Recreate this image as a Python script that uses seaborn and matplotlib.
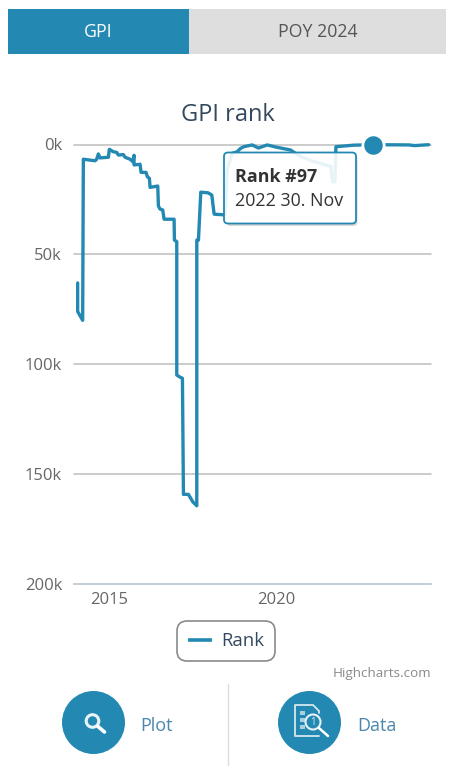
import matplotlib
matplotlib.use("Agg")
import matplotlib.pyplot as plt
from matplotlib.patches import Circle, FancyBboxPatch, Rectangle
import pandas as pd
import seaborn as sns

# GPI world rank over time, as decimal year / rank position
years = [2014.06, 2014.06, 2014.21, 2014.23, 2014.58, 2014.63, 2014.68, 2014.73, 2014.98, 2015.01,
         2015.13, 2015.23, 2015.28, 2015.43, 2015.48, 2015.63, 2015.71, 2015.75, 2015.75, 2015.93,
         2015.96, 2016.11, 2016.15, 2016.21, 2016.23, 2016.46, 2016.48, 2016.53, 2016.61, 2016.65,
         2016.95, 2016.96, 2017.03, 2017.03, 2017.11, 2017.20, 2017.23, 2017.38, 2017.51, 2017.63,
         2017.63, 2017.68, 2017.75, 2017.97, 2018.08, 2018.15, 2018.43, 2018.48, 2018.54, 2018.69,
         2018.84, 2018.94, 2019.04, 2019.29, 2019.48, 2019.74, 2020.04, 2020.44, 2020.74, 2021.14,
         2021.65, 2021.70, 2021.77, 2021.80, 2022.34, 2022.915, 2023.60, 2024.00, 2024.15, 2024.58]
ranks = [63000, 76000, 80000, 6700, 7400, 6700, 4300, 6100, 5800, 2200,
         3300, 3600, 4800, 4600, 5800, 6700, 7800, 4900, 9300, 9000,
         12700, 12700, 14700, 15400, 19500, 18900, 28000, 29400, 29800, 34000,
         34000, 43500, 44200, 104900, 105700, 106400, 159200, 159200, 162600, 164400,
         43500, 43500, 21700, 22000, 23000, 31700, 32000, 32000, 11500, 4000,
         3300, 1800, 1000, 200, 1600, 200, 1300, 2500, 5500, 7800,
         10000, 17000, 17000, 1000, 300, 97, 150, 200, 500, 100]

selected_year = 2022.915
selected_rank = 97

y_ticks = [0, 50000, 100000, 150000, 200000]
y_labels = ["0k", "50k", "100k", "150k", "200k"]
x_ticks = [2015, 2020]
x_labels = ["2015", "2020"]

TEAL = "#2389b2"
INK = "#34495e"
AXIS_TEXT = "#666666"
W, H = 451, 769

sns.set_theme(style="white")
plt.rcParams["font.family"] = ["Open Sans", "DejaVu Sans"]

fig = plt.figure(figsize=(W / 100, H / 100), dpi=100, facecolor="white")

# Page furniture lives on a full-figure layer measured in pixels
ui = fig.add_axes([0, 0, 1, 1], zorder=0)
ui.set_xlim(0, W)
ui.set_ylim(H, 0)
ui.axis("off")

ax = fig.add_axes([74 / W, 1 - 584 / H, (431 - 74) / W, (584 - 144.5) / H], zorder=1)
ax.patch.set_alpha(0)

frame = pd.DataFrame({"year": years, "rank": ranks})
sns.lineplot(data=frame, x="year", y="rank", estimator=None, sort=False, color=TEAL,
             linewidth=2.4, ax=ax, label="Rank", clip_on=False, zorder=3,
             solid_joinstyle="round")
ax.scatter([selected_year], [selected_rank], s=235, color=TEAL, edgecolor="white",
           linewidth=2, zorder=4, clip_on=False)

ax.set_xlim(2013.95, 2024.65)
ax.set_ylim(200000, 0)
ax.set_xticks(x_ticks, x_labels)
ax.set_yticks(y_ticks, y_labels)
ax.set_xlabel("")
ax.set_ylabel("")
ax.tick_params(axis="both", length=0, labelsize=12, labelcolor=AXIS_TEXT)
ax.tick_params(axis="y", pad=8.6)
ax.tick_params(axis="x", pad=6)
ax.grid(axis="y", color="#bdbdbd", linewidth=1.1, clip_on=False)
ax.grid(axis="x", visible=False)
ax.set_axisbelow(True)
for name in ("top", "left", "right"):
    ax.spines[name].set_visible(False)
ax.spines["bottom"].set_color("#c3cfdc")
ax.spines["bottom"].set_linewidth(1.1)

leg = ax.legend(loc="center", bbox_to_anchor=(226 / W, 1 - 641 / H),
                bbox_transform=fig.transFigure, fontsize=13.3, frameon=True, fancybox=True,
                edgecolor="#8a8a8a", facecolor="white", framealpha=1, handlelength=1.3,
                handletextpad=0.5, borderpad=0.6, labelcolor=INK)
leg.get_frame().set_linewidth(1.2)
leg.get_frame().set_boxstyle("round", pad=0, rounding_size=0.55)
leg.get_lines()[0].set_linewidth(2.6)
leg.get_lines()[0].set_solid_capstyle("butt")

# Tabs
ui.add_patch(Rectangle((8, 9), 181, 45, color=TEAL, lw=0))
ui.add_patch(Rectangle((189, 9), 257, 45, color="#dedede", lw=0))
ui.text(98.5, 32, "GPI", color="white", fontsize=12.8, ha="center", va="center")
ui.text(318, 32, "POY 2024", color="#555555", fontsize=12.8, ha="center", va="center")

ui.text(227.5, 115, "GPI rank", color=INK, fontsize=17, ha="center", va="center")
ui.text(431, 673.5, "Highcharts.com", color="#8a8a8a", fontsize=9.7, ha="right", va="center")

# Tooltip shadow sits under the line; the translucent card sits above it
ui.add_patch(FancyBboxPatch((226.5, 155), 131, 71, boxstyle="round,pad=0,rounding_size=4",
                            fc="#000000", ec="none", alpha=0.16))
ui.add_patch(FancyBboxPatch((224, 152.5), 132, 71, boxstyle="round,pad=0,rounding_size=4",
                            fc="white", ec="none"))
tip = fig.add_axes([0, 0, 1, 1], zorder=2)
tip.set_xlim(0, W)
tip.set_ylim(H, 0)
tip.axis("off")
tip.add_patch(FancyBboxPatch((224, 152.5), 132, 71, boxstyle="round,pad=0,rounding_size=4",
                             fc=(1, 1, 1, 0.9), ec=TEAL, lw=1.3))
tip.text(235, 177.5, "Rank #97", color="#333333", fontsize=12.9, fontweight="bold",
         ha="left", va="center")
tip.text(235, 201.5, "2022 30. Nov", color="#333333", fontsize=12.9, ha="left", va="center")

# Bottom buttons
ui.plot([227.5, 227.5], [684, 765], color="#dddddd", lw=1)
for cx in (93.5, 309.5):
    ui.add_patch(Circle((cx, 722.5), 31.5, color=TEAL, lw=0))
ui.text(140.5, 726, "Plot", color="#4a87ad", fontsize=13, ha="left", va="center")
ui.text(357, 726, "Data", color="#4a87ad", fontsize=13, ha="left", va="center")

# Magnifier glyph
ui.add_patch(Circle((92.5, 721), 6.3, fc="none", ec="#eaf4f8", lw=2.2))
ui.plot([98, 104.5], [726.5, 732], color="white", lw=2.6, solid_capstyle="round")

# Document-with-magnifier glyph
ui.plot([319, 295, 295, 313, 319, 319], [736, 736, 705, 705, 711, 713],
        color="#d5e8f0", lw=1.3, solid_joinstyle="round")
for row in (713, 720, 727):
    ui.add_patch(Rectangle((300, row - 2), 5, 4, color="#a9d0e0", lw=0))
ui.add_patch(Circle((313, 722), 7.5, fc=TEAL, ec="#e6f2f7", lw=1.5))
ui.text(313, 722.5, "1", color="#d5e8f0", fontsize=7, ha="center", va="center")
ui.plot([319, 328], [728, 736], color="white", lw=1.8, solid_capstyle="round")

fig.savefig("out.png", dpi=100, facecolor="white")
